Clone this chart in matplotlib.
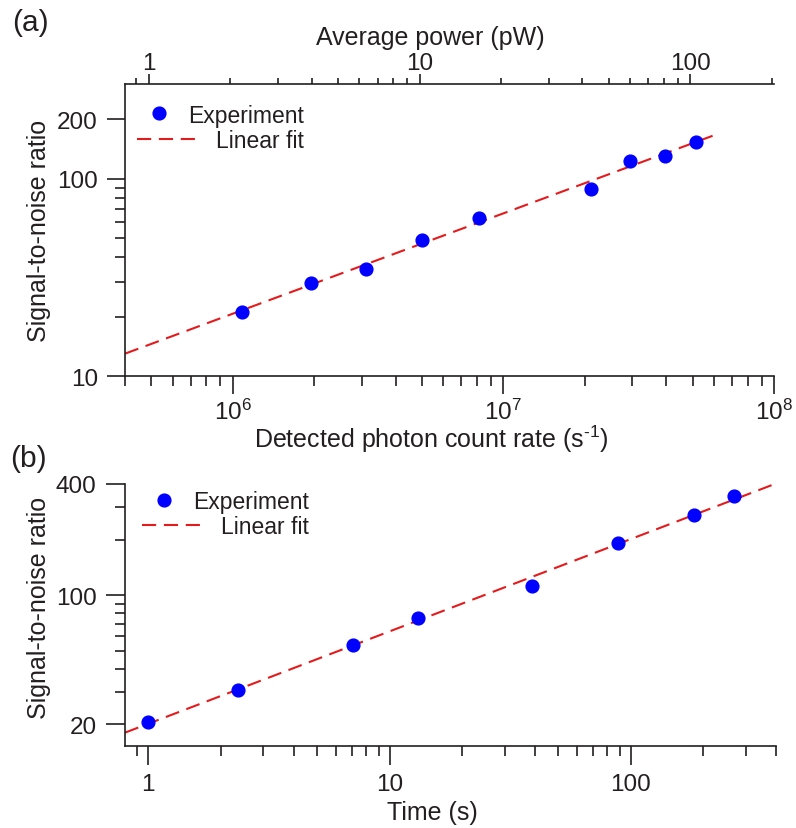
import numpy as np
import matplotlib
matplotlib.use("Agg")
import matplotlib.pyplot as plt
from matplotlib.ticker import FixedLocator, FixedFormatter, NullFormatter

# ---------------- data ----------------
# (a) SNR versus detected photon count rate
rate = [1.08e6, 1.94e6, 3.10e6, 4.99e6, 8.11e6, 2.11e7, 2.93e7, 3.96e7, 5.16e7]
snr_rate = [21.1, 29.7, 35.0, 48.9, 63.2, 89.0, 123.3, 130.8, 153.5]
rate_fit_range = [4e5, 6e7]
counts_per_pW = 4.9e5  # detected counts per second for 1 pW average power

# (b) SNR versus integration time
time_s = [1.0, 2.35, 7.05, 13.1, 38.8, 88.1, 182.6, 266.7]
snr_time = [20.5, 30.6, 54.0, 75.7, 112.4, 190.6, 271.6, 344.5]
time_fit_range = [0.8, 400]

# ticks
rate_major = [1e6, 1e7, 1e8]
rate_major_labels = [r"$\mathregular{10^{6}}$", r"$\mathregular{10^{7}}$", r"$\mathregular{10^{8}}$"]
power_major = [1, 10, 100]
power_major_labels = ["1", "10", "100"]
snr_a_major = [10, 100, 200]
snr_a_major_labels = ["10", "100", "200"]
time_major = [1, 10, 100]
time_major_labels = ["1", "10", "100"]
snr_b_major = [20, 100, 400]
snr_b_major_labels = ["20", "100", "400"]

# ---------------- style ----------------
plt.rcParams["font.family"] = ["Liberation Sans", "DejaVu Sans"]
plt.rcParams["mathtext.fontset"] = "custom"
plt.rcParams["mathtext.rm"] = "Liberation Sans"
plt.rcParams["mathtext.it"] = "Liberation Sans:italic"
plt.rcParams["mathtext.bf"] = "Liberation Sans:bold"

TXT = "#231f20"
BLUE = "#0000ff"
RED = "#e41a1c"
LW_AX = 1.2
TICK_FS = 17.5
LABEL_FS = 18
LEG_FS = 16.5

fig = plt.figure(figsize=(7.96, 8.29), dpi=100)
W, H = 796, 829


def px_axes(left, top, right, bottom):
    return fig.add_axes([left / W, 1 - bottom / H, (right - left) / W, (bottom - top) / H])


def log_minor(decades, subs):
    return [m * d for d in decades for m in subs]


def style_axes(ax):
    for s in ["top", "right"]:
        ax.spines[s].set_visible(False)
    for s in ["left", "bottom"]:
        ax.spines[s].set_linewidth(LW_AX)
        ax.spines[s].set_color(TXT)
    ax.tick_params(which="both", direction="out", colors=TXT, width=LW_AX,
                   labelsize=TICK_FS, labelcolor=TXT)
    ax.tick_params(which="major", length=13)
    ax.tick_params(which="minor", length=7)
    ax.tick_params(axis="y", which="major", pad=6.5)
    ax.tick_params(axis="x", which="major", pad=4)


def fit_line(x, y, xr):
    slope, icpt = np.polyfit(np.log10(x), np.log10(y), 1)
    xs = np.logspace(np.log10(xr[0]), np.log10(xr[1]), 50)
    return xs, 10 ** (icpt + slope * np.log10(xs))


def add_legend(ax, pt, ln, xr, y1, y2):
    l1 = ax.legend([pt], ["Experiment"], loc="center right", bbox_to_anchor=(xr, y1),
                   frameon=False, fontsize=LEG_FS, borderpad=0, borderaxespad=0,
                   handlelength=1.0, handletextpad=0.76, labelcolor=TXT)
    ax.add_artist(l1)
    ax.legend([ln], ["Linear fit"], loc="center right", bbox_to_anchor=(xr, y2),
              frameon=False, fontsize=LEG_FS, borderpad=0, borderaxespad=0,
              handlelength=2.66, handletextpad=0.79, labelcolor=TXT)


# ---------------- panel (a) ----------------
ax1 = px_axes(125, 85, 774, 377.3)
ax1.set_xscale("log")
ax1.set_yscale("log")
ax1.set_xlim(4e5, 1e8)
ax1.set_ylim(10, 301)

xf, yf = fit_line(rate, snr_rate, rate_fit_range)
ln1, = ax1.plot(xf, yf, color=RED, lw=1.5, dashes=(6.8, 3.7), zorder=2)
pt1, = ax1.plot(rate, snr_rate, "o", color=BLUE, mec=BLUE, ms=9.2, lw=0, zorder=3)

style_axes(ax1)
ax1.xaxis.set_major_locator(FixedLocator(rate_major))
ax1.xaxis.set_major_formatter(FixedFormatter(rate_major_labels))
ax1.xaxis.set_minor_locator(FixedLocator(log_minor([1e5, 1e6, 1e7], range(2, 10))))
ax1.xaxis.set_minor_formatter(NullFormatter())
ax1.yaxis.set_major_locator(FixedLocator(snr_a_major))
ax1.yaxis.set_major_formatter(FixedFormatter(snr_a_major_labels))
ax1.yaxis.set_minor_locator(FixedLocator(log_minor([10], range(2, 10))))
ax1.yaxis.set_minor_formatter(NullFormatter())
ax1.tick_params(axis="x", which="major", pad=3)

ax1.set_xlabel(r"Detected photon count rate (s$^{\text{-}1}$)", fontsize=LABEL_FS, color=TXT)
ax1.xaxis.set_label_coords(0.4715, -0.158)
ax1.set_ylabel("Signal-to-noise ratio", fontsize=LABEL_FS, color=TXT)
ax1.yaxis.set_label_coords(-0.114, 0.5)

sec = ax1.secondary_xaxis("top", functions=(lambda r: r / counts_per_pW,
                                             lambda p: p * counts_per_pW))
sec.spines["top"].set_linewidth(LW_AX)
sec.spines["top"].set_color(TXT)
sec.xaxis.set_major_locator(FixedLocator(power_major))
sec.xaxis.set_major_formatter(FixedFormatter(power_major_labels))
sec.xaxis.set_minor_locator(FixedLocator(log_minor([0.1, 1, 10, 100], range(2, 10))))
sec.xaxis.set_minor_formatter(NullFormatter())
sec.tick_params(which="both", direction="out", colors=TXT, width=LW_AX,
                labelsize=TICK_FS, labelcolor=TXT)
sec.tick_params(which="major", length=7, pad=0)
sec.tick_params(which="minor", length=4)
sec.set_xlabel("Average power (pW)", fontsize=LABEL_FS, color=TXT)
sec.xaxis.set_label_coords(0.47, 1.137, transform=ax1.transAxes)

add_legend(ax1, pt1, ln1, (304 - 125) / 649, (377.3 - 116) / 292.3, (377.3 - 142) / 292.3)

# ---------------- panel (b) ----------------
ax2 = px_axes(125, 485, 776, 747.3)
ax2.set_xscale("log")
ax2.set_yscale("log")
ax2.set_xlim(0.8, 400)
ax2.set_ylim(15.2, 400)

xf2, yf2 = fit_line(time_s, snr_time, time_fit_range)
ln2, = ax2.plot(xf2, yf2, color=RED, lw=1.5, dashes=(6.8, 3.7), zorder=2)
pt2, = ax2.plot(time_s, snr_time, "o", color=BLUE, mec=BLUE, ms=9.2, lw=0, zorder=3)

style_axes(ax2)
ax2.xaxis.set_major_locator(FixedLocator(time_major))
ax2.xaxis.set_major_formatter(FixedFormatter(time_major_labels))
ax2.xaxis.set_minor_locator(FixedLocator([0.9] + log_minor([1, 10], range(2, 10)) + [200, 300, 400]))
ax2.xaxis.set_minor_formatter(NullFormatter())
ax2.yaxis.set_major_locator(FixedLocator(snr_b_major))
ax2.yaxis.set_major_formatter(FixedFormatter(snr_b_major_labels))
ax2.yaxis.set_minor_locator(FixedLocator(log_minor([10], range(3, 10)) + [200, 300]))
ax2.yaxis.set_minor_formatter(NullFormatter())
ax2.tick_params(which="major", length=14)
ax2.tick_params(axis="x", which="major", pad=5)

ax2.set_xlabel("Time (s)", fontsize=LABEL_FS, color=TXT)
ax2.xaxis.set_label_coords(0.4716, -0.205)
ax2.set_ylabel("Signal-to-noise ratio", fontsize=LABEL_FS, color=TXT)
ax2.yaxis.set_label_coords(-0.1137, 0.531)

add_legend(ax2, pt2, ln2, (309 - 125) / 651, (747.3 - 503) / 262.3, (747.3 - 528) / 262.3)

# ---------------- panel tags ----------------
fig.text(12 / W, 1 - 9 / H, "(a)", fontsize=21.5, color=TXT, ha="left", va="top")
fig.text(10 / W, 1 - 445 / H, "(b)", fontsize=21.5, color=TXT, ha="left", va="top")

fig.savefig("out.png", dpi=100)
